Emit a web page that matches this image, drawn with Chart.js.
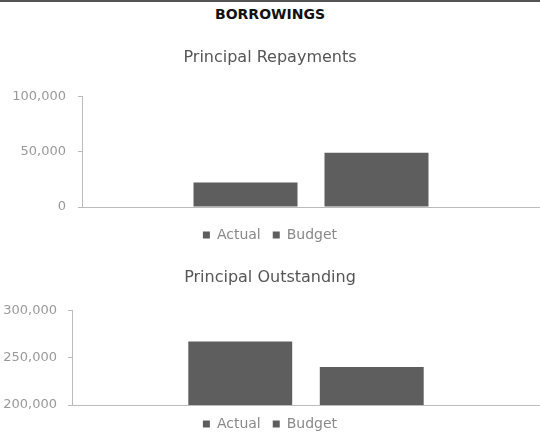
<!DOCTYPE html>
<html>
<head>
<meta charset="utf-8">
<script src="https://cdn.jsdelivr.net/npm/chart.js@4"></script>
<style>
  body { margin: 0; width: 540px; height: 434px; overflow: hidden; background: #fff; position: relative; }
  #linea { position: absolute; top: 0; left: 0; width: 540px; height: 2px; background: #555; }
  #titulo { position: absolute; top: 5px; left: 0; width: 540px; text-align: center; font: bold 14px "DejaVu Sans"; line-height: 18px; color: #111; }
  #g1 { position: absolute; top: 40px; left: 0; }
  #g2 { position: absolute; top: 260px; left: 0; }
</style>
</head>
<body>
<div id="linea"></div>
<div id="titulo">BORROWINGS</div>
<canvas id="g1" width="540" height="212"></canvas>
<canvas id="g2" width="540" height="181"></canvas>
<script>
// Datos
const categorias = [''];
const nombresSeries = ['Actual', 'Budget'];
const repagosActual = [22000];
const repagosBudget = [49000];
const pendienteActual = [267000];
const pendienteBudget = [240000];
const ticksRepagos = [0, 50000, 100000];
const ticksPendiente = [200000, 250000, 300000];

const colorBarra = '#5e5e5e';
const colorEje = '#bbbbbb';
const fuente = 'DejaVu Sans';

// Crear una grafica de barras con las opciones comunes
function crearGrafica(id, titulo, actual, budget, ticks, conf) {
    const ctx = document.getElementById(id).getContext('2d');
    return new Chart(ctx, {
        type: 'bar',
        data: {
            labels: categorias,
            datasets: [
                { label: nombresSeries[0], data: actual, backgroundColor: colorBarra },
                { label: nombresSeries[1], data: budget, backgroundColor: colorBarra }
            ]
        },
        options: {
            responsive: false,
            animation: false,
            categoryPercentage: conf.catPct,
            barPercentage: conf.barPct,
            layout: { padding: 0 },
            plugins: {
                title: {
                    display: true,
                    text: titulo,
                    color: '#555',
                    font: { family: fuente, size: 16, weight: 'normal' },
                    padding: { top: 8, bottom: conf.tituloAbajo }
                },
                legend: {
                    position: 'bottom',
                    labels: {
                        color: '#888',
                        font: { family: fuente, size: 14 },
                        boxWidth: 7,
                        boxHeight: 7,
                        padding: 12
                    }
                },
                tooltip: { enabled: false }
            },
            scales: {
                x: {
                    ticks: { display: false },
                    grid: { display: false },
                    border: { display: true, color: colorEje },
                    afterFit: (eje) => { eje.height = conf.altoX; }
                },
                y: {
                    min: ticks[0],
                    max: ticks[ticks.length - 1],
                    ticks: {
                        stepSize: ticks[1] - ticks[0],
                        color: '#999',
                        padding: conf.padTick,
                        font: { family: fuente, size: 13 },
                        callback: (v) => v.toLocaleString('en-US')
                    },
                    grid: { drawOnChartArea: false, drawTicks: true, tickLength: 4, color: colorEje },
                    border: { display: true, color: colorEje },
                    afterFit: (eje) => { eje.width = conf.anchoY; }
                }
            }
        }
    });
}

crearGrafica('g1', 'Principal Repayments', repagosActual, repagosBudget, ticksRepagos,
    { catPct: 0.572, barPct: 0.794, tituloAbajo: 29, altoX: 9, anchoY: 82, padTick: 12 });

crearGrafica('g2', 'Principal Outstanding', pendienteActual, pendienteBudget, ticksPendiente,
    { catPct: 0.562, barPct: 0.79, tituloAbajo: 23, altoX: 0, anchoY: 72, padTick: 11 });
</script>
</body>
</html>
